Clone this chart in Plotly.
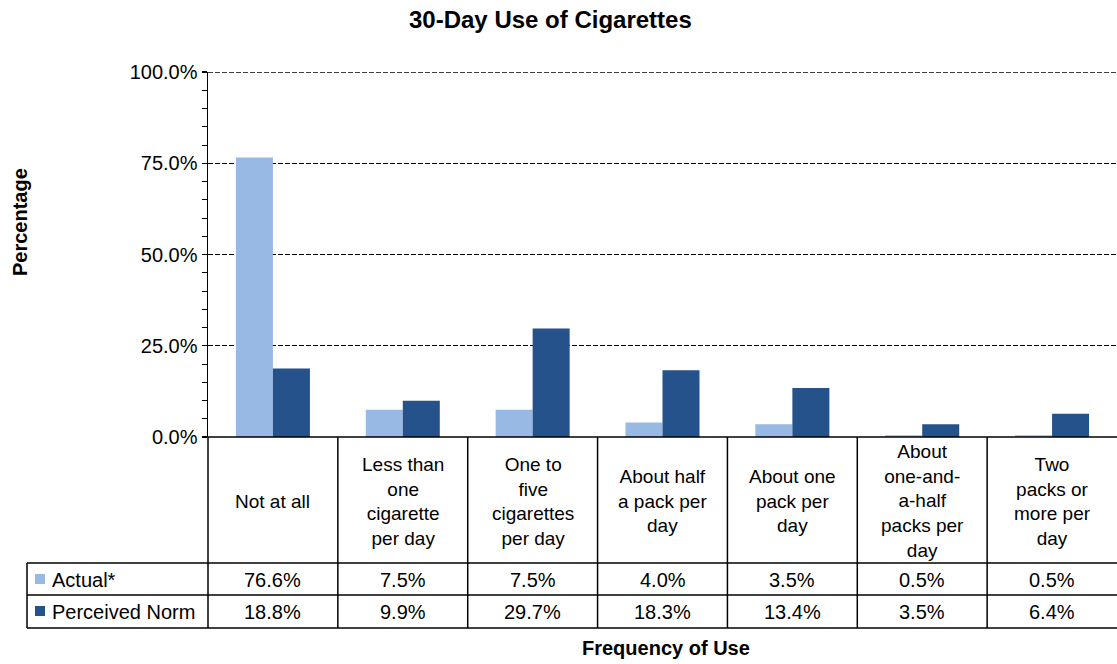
import plotly.graph_objects as go

categories = ["Not at all", "Less than one cigarette per day", "One to five cigarettes per day",
              "About half a pack per day", "About one pack per day",
              "About one-and-a-half packs per day", "Two packs or more per day"]
category_labels = ["Not at all", "Less than<br>one<br>cigarette<br>per day", "One to<br>five<br>cigarettes<br>per day",
                   "About half<br>a pack per<br>day", "About one<br>pack per<br>day",
                   "About<br>one-and-<br>a-half<br>packs per<br>day", "Two<br>packs or<br>more per<br>day"]
series_names = ["Actual*", "Perceived Norm"]
actual = [76.6, 7.5, 7.5, 4.0, 3.5, 0.5, 0.5]
perceived = [18.8, 9.9, 29.7, 18.3, 13.4, 3.5, 6.4]
y_ticks = [0, 25, 50, 75, 100]

colors = ["#98B9E3", "#25528B"]
FONT = "Liberation Sans, Arial, sans-serif"

W, H = 1117, 664
L, R, T, B = 208, 1117, 72, 437


def px_x(x):
    return (x - L) / (R - L)


def px_y(y):
    return (B - y) / (B - T)


fig = go.Figure()
for name, vals, c in zip(series_names, [actual, perceived], colors):
    fig.add_trace(go.Bar(x=categories, y=vals, name=name, marker_color=c,
                         marker_line_width=0, showlegend=False, hoverinfo="skip"))

fig.update_layout(
    width=W, height=H,
    margin=dict(l=L, r=W - R, t=T, b=H - B),
    paper_bgcolor="white", plot_bgcolor="white",
    barmode="group", bargap=0.43, bargroupgap=0,
    font=dict(family=FONT, color="black", size=20),
)
fig.update_xaxes(showticklabels=False, showgrid=False, showline=False, zeroline=False,
                 range=[-0.5, 6.5], fixedrange=True)
fig.update_yaxes(range=[0, 100], tickvals=y_ticks, ticktext=[f"{v:.1f}%" for v in y_ticks],
                 ticks="outside", ticklen=5, tickcolor="black", tickwidth=1.3,
                 tickfont=dict(size=20, family=FONT, color="black"),
                 showline=True, linecolor="black", linewidth=1.5,
                 showgrid=True, gridcolor="black", gridwidth=1.3, griddash="5px,2px",
                 zeroline=False, fixedrange=True,
                 minor=dict(dtick=5, ticks="outside", ticklen=5, tickcolor="black", tickwidth=1, showgrid=False))

shapes = []
line = dict(color="black", width=1.5)
# dashed top gridline at the axis maximum
shapes.append(dict(type="line", xref="paper", yref="y", x0=0, x1=1, y0=y_ticks[-1], y1=y_ticks[-1],
                   line=dict(color="black", width=1.3, dash="5px,2px")))
# x-axis baseline / top of table header
shapes.append(dict(type="line", xref="paper", yref="paper", x0=0, x1=1, y0=0, y1=0, line=line))
row_ys = [563, 595, 628]
for y in row_ys:
    shapes.append(dict(type="line", xref="paper", yref="paper", x0=px_x(27), x1=1,
                       y0=px_y(y), y1=px_y(y), line=line))
shapes.append(dict(type="line", xref="paper", yref="paper", x0=px_x(27), x1=px_x(27),
                   y0=px_y(563), y1=px_y(628), line=line))
n = len(categories)
for i in range(n):
    xb = i / n
    shapes.append(dict(type="line", xref="paper", yref="paper", x0=xb, x1=xb,
                       y0=0, y1=px_y(628), line=line))
# legend keys
for k, (c, yc) in enumerate(zip(colors, [579, 611])):
    shapes.append(dict(type="rect", xref="paper", yref="paper",
                       x0=px_x(35), x1=px_x(45), y0=px_y(yc - 5), y1=px_y(yc + 5),
                       fillcolor=c, line=dict(width=0)))

annotations = []
for cat, lab in zip(categories, category_labels):
    annotations.append(dict(x=cat, xref="x", y=px_y(501), yref="paper", text=lab, showarrow=False,
                            font=dict(size=19), align="center", yanchor="middle"))
for vals, yc in zip([actual, perceived], [580, 612]):
    for cat, v in zip(categories, vals):
        annotations.append(dict(x=cat, xref="x", y=px_y(yc), yref="paper", text=f"{v:.1f}%",
                                showarrow=False, font=dict(size=20), yanchor="middle"))
for name, yc in zip(series_names, [580, 612]):
    annotations.append(dict(x=px_x(50), xref="paper", y=px_y(yc), yref="paper", text=name,
                            showarrow=False, xanchor="left", yanchor="middle", font=dict(size=20)))
annotations.append(dict(x=px_x(550), xref="paper", y=px_y(20), yref="paper",
                        text="<b>30-Day Use of Cigarettes</b>", showarrow=False,
                        font=dict(size=24), yanchor="middle"))
annotations.append(dict(x=px_x(666), xref="paper", y=px_y(648), yref="paper",
                        text="<b>Frequency of Use</b>", showarrow=False,
                        font=dict(size=20), yanchor="middle"))
annotations.append(dict(x=px_x(20), xref="paper", y=px_y(222), yref="paper",
                        text="<b>Percentage</b>", showarrow=False, textangle=-90,
                        font=dict(size=20), xanchor="center", yanchor="middle"))

fig.update_layout(shapes=shapes, annotations=annotations)
fig.write_html("out.html", config={"displayModeBar": False, "staticPlot": True},
               post_script="document.body.style.margin='0';document.body.style.padding='0';")
